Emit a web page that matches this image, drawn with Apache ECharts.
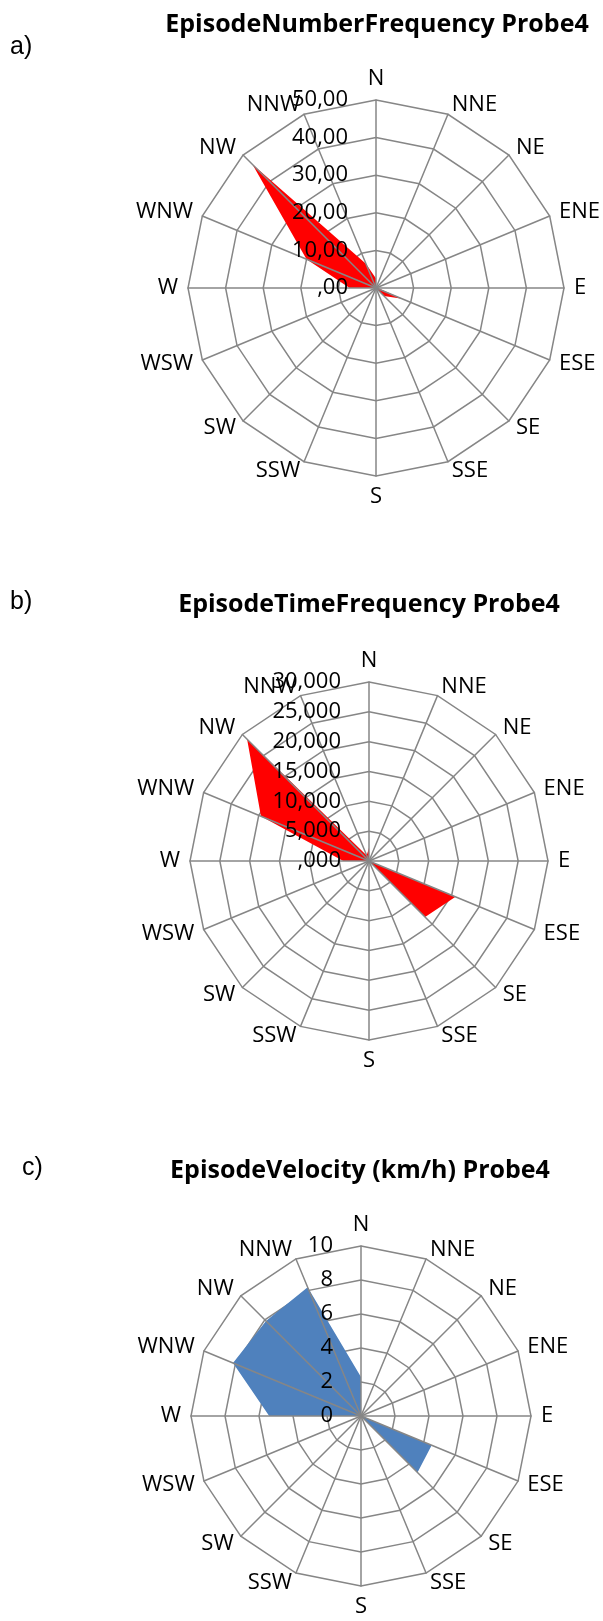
<!DOCTYPE html>
<html>
<head>
<meta charset="utf-8">
<script src="https://cdn.jsdelivr.net/npm/echarts@6/dist/echarts.min.js"></script>
<style>
  body { margin: 0; background: #fff; }
  #main { width: 603px; height: 1621px; }
</style>
</head>
<body>
<div id="main"></div>
<script>
// wind directions, clockwise from N like the excel chart
var directions = ['N', 'NNE', 'NE', 'ENE', 'E', 'ESE', 'SE', 'SSE', 'S', 'SSW', 'SW', 'WSW', 'W', 'WNW', 'NW', 'NNW'];

// a) EpisodeNumberFrequency Probe4
var numberFreq = [2.5, 0, 0, 0, 0.5, 7.5, 3, 0, 0, 0, 0, 0, 7, 20, 46.5, 7];
var numberTicks = [',00', '10,00', '20,00', '30,00', '40,00', '50,00'];

// b) EpisodeTimeFrequency Probe4
var timeFreq = [2200, 0, 0, 0, 0, 15700, 13300, 0, 0, 0, 0, 0, 4300, 19600, 28900, 1000];
var timeTicks = [',000', '5,000', '10,000', '15,000', '20,000', '25,000', '30,000'];

// c) EpisodeVelocity (km/h) Probe4
var velocity = [2.3, 0, 0, 0, 0, 4.5, 4.7, 0, 0, 0, 0, 0, 5.4, 8.15, 7.9, 8.2];
var velocityTicks = ['0', '2', '4', '6', '8', '10'];

var gridColor = '#868686';
var font = 'Open Sans';

// echarts radar goes counter-clockwise, so flip the order after N
function ccw(arr) {
  return [arr[0]].concat(arr.slice(1).reverse());
}

// two radars per chart: rings under the fill, spokes + tick labels above it
function radars(cx, cy, r, max, ticks) {
  var step = max / (ticks.length - 1);
  var names = ccw(directions);
  var under = names.map(function (n) {
    var o = { name: n, min: 0, max: max };
    if (n === 'N') o.nameTextStyle = { verticalAlign: 'bottom' };
    if (n === 'S') o.nameTextStyle = { verticalAlign: 'top' };
    return o;
  });
  var over = names.map(function (n) {
    var o = { name: n, min: 0, max: max };
    if (n === 'N') o.axisLabel = { show: true };
    return o;
  });
  return [
    {
      center: [cx, cy], radius: r, startAngle: 90, shape: 'polygon',
      splitNumber: ticks.length - 1, z: 0,
      axisName: { color: '#000', fontSize: 22, fontFamily: font, verticalAlign: 'middle' },
      axisNameGap: 10,
      splitLine: { lineStyle: { color: gridColor, width: 1.5 } },
      splitArea: { show: false },
      axisLine: { show: false },
      axisTick: { show: false },
      axisLabel: { show: false },
      indicator: under
    },
    {
      center: [cx, cy], radius: r, startAngle: 90, shape: 'polygon',
      splitNumber: ticks.length - 1, z: 5,
      axisName: { show: false },
      splitLine: { show: false },
      splitArea: { show: false },
      axisLine: { lineStyle: { color: gridColor, width: 1.5 } },
      axisTick: { show: false },
      axisLabel: {
        show: false, color: '#000', fontSize: 22, fontFamily: font, margin: 28,
        formatter: function (v) { return ticks[Math.round(v / step)]; }
      },
      indicator: over
    }
  ];
}

function fill(radarIndex, values, color) {
  return {
    type: 'radar', radarIndex: radarIndex, symbol: 'none', silent: true,
    lineStyle: { width: 0, opacity: 0 },
    itemStyle: { color: color },
    areaStyle: { color: color, opacity: 1 },
    data: [{ value: ccw(values) }]
  };
}

function heading(text, x, y) {
  return {
    text: text, left: x, top: y, textAlign: 'center', padding: 0,
    textStyle: { fontFamily: font, fontWeight: 'bold', fontSize: 25, color: '#000' }
  };
}
function tag(text, x, y) {
  return {
    text: text, left: x, top: y, padding: 0,
    textStyle: { fontFamily: 'Liberation Sans', fontWeight: 'normal', fontSize: 25, color: '#000' }
  };
}

var myChart = echarts.init(document.getElementById('main'));
myChart.setOption({
  animation: false,
  title: [
    heading('EpisodeNumberFrequency Probe4', 377, 12),
    tag('a)', 10, 35),
    heading('EpisodeTimeFrequency Probe4', 369, 592),
    tag('b)', 10, 590),
    heading('EpisodeVelocity (km/h) Probe4', 360, 1158),
    tag('c)', 22, 1156)
  ],
  radar: []
    .concat(radars(376, 288, 188, 50, numberTicks))
    .concat(radars(369, 861, 179, 30000, timeTicks))
    .concat(radars(361, 1416, 170, 10, velocityTicks)),
  series: [
    fill(0, numberFreq, '#ff0000'),
    fill(2, timeFreq, '#ff0000'),
    fill(4, velocity, '#4f81bd')
  ]
});
</script>
</body>
</html>
